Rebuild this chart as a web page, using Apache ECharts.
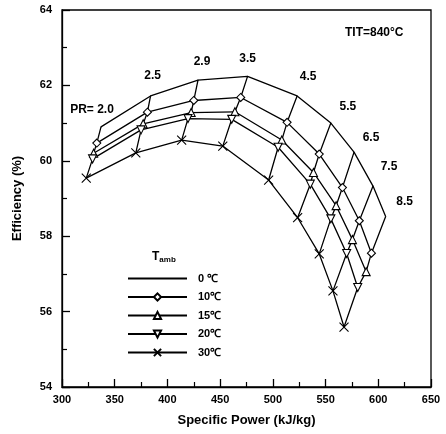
<!DOCTYPE html>
<html><head><meta charset="utf-8">
<script src="https://cdn.jsdelivr.net/npm/echarts@6/dist/echarts.min.js"></script>
<style>html,body{margin:0;padding:0;background:#fff}#c{width:446px;height:434px}</style>
</head><body><div id="c"></div>
<script>
var prLabels = ['PR= 2.0','2.5','2.9','3.5','4.5','5.5','6.5','7.5','8.5'];
var tambNames = ['0 ℃','10℃','15℃','20℃','30℃'];
var t0x  = [337, 384, 429, 476, 523, 555, 577, 595, 607];
var t0y  = [60.90, 61.72, 62.14, 62.24, 61.72, 61.00, 60.23, 59.33, 58.52];
var t10x = [333, 381, 425, 469.5, 513.5, 544, 566, 582, 593.5];
var t10y = [60.47, 61.29, 61.60, 61.68, 61.02, 60.18, 59.29, 58.41, 57.55];
var t15x = [330, 377, 422.5, 464, 508.5, 538.5, 560, 575.5, 588.5];
var t15y = [60.20, 60.98, 61.28, 61.30, 60.55, 59.69, 58.81, 57.91, 57.06];
var t20x = [329, 375, 419.5, 461, 505, 535.5, 555, 570, 580.5];
var t20y = [60.05, 60.82, 61.12, 61.10, 60.36, 59.38, 58.46, 57.54, 56.64];
var t30x = [323, 370, 413.5, 452.5, 496, 523.5, 544, 557, 567.5];
var t30y = [59.54, 60.21, 60.55, 60.39, 59.49, 58.49, 57.53, 56.55, 55.59];
var xTicks = [300, 350, 400, 450, 500, 550, 600, 650];
var yTicks = [54, 56, 58, 60, 62, 64];

var allX = [t0x, t10x, t15x, t20x, t30x];
var allY = [t0y, t10y, t15y, t20y, t30y];
var symbols = ['none', 'diamond', 'triangle', 'triangle', 'path://M0,0 L10,10 M10,0 L0,10'];
var rot = [0, 0, 0, 180, 0];
var sizes = [0, 8, 8, 8, 9];
var labelOffsets = [[-9,-17],[2,-20],[4,-18],[0,-18],[11,-19],[17,-16],[17,-14],[16,-19],[19,-15]];

var font = '"Liberation Sans", Arial, sans-serif';
var series = [];
for (var s = 0; s < 5; s++) {
  var d = [];
  for (var i = 0; i < allX[s].length; i++) d.push([allX[s][i], allY[s][i]]);
  series.push({
    name: tambNames[s], type: 'line', data: d, z: 3,
    symbol: symbols[s], symbolSize: sizes[s], symbolRotate: rot[s], showSymbol: s > 0,
    lineStyle: {color: '#000', width: 1.3},
    itemStyle: {color: s === 4 ? 'rgba(0,0,0,0)' : '#fff', borderColor: '#000', borderWidth: 1.1},
    emphasis: {disabled: true}, animation: false
  });
}
for (var p = 0; p < prLabels.length; p++) {
  var d2 = [];
  for (var s2 = 0; s2 < 5; s2++) d2.push([allX[s2][p], allY[s2][p]]);
  series.push({
    name: 'PR' + p, type: 'line', data: d2, z: 2,
    symbol: 'circle', symbolSize: 1, showSymbol: true,
    lineStyle: {color: '#000', width: 1.3},
    itemStyle: {color: '#000'},
    label: {show: false},
    emphasis: {disabled: true}, animation: false,
    markPoint: {
      symbol: 'circle', symbolSize: 0, silent: true,
      data: [{coord: d2[0], value: prLabels[p],
        label: {show: true, formatter: prLabels[p], offset: labelOffsets[p], position: 'inside',
          color: '#000', fontWeight: 'bold', fontSize: 12, fontFamily: font}}]
    }
  });
}

var legendData = tambNames.map(function (n, k) {
  return k === 0 ? {name: n, itemStyle: {opacity: 0}} : {name: n};
});

var chart = echarts.init(document.getElementById('c'), null, {renderer: 'canvas'});
chart.setOption({
  animation: false,
  backgroundColor: '#fff',
  grid: {left: 62, top: 10, right: 15, bottom: 47, show: true, borderColor: '#000', borderWidth: 1.3},
  xAxis: {
    type: 'value', min: xTicks[0], max: xTicks[xTicks.length-1], interval: 50,
    name: 'Specific Power (kJ/kg)', nameLocation: 'middle', nameGap: 27,
    nameTextStyle: {color: '#000', fontWeight: 'bold', fontSize: 13, fontFamily: font},
    axisLine: {lineStyle: {color: '#000', width: 1.3}},
    axisTick: {inside: true, length: 8, lineStyle: {color: '#000', width: 1.3}},
    minorTick: {show: true, splitNumber: 2, length: 5, lineStyle: {color: '#000', width: 1.2}},
    axisLabel: {color: '#000', fontWeight: 'bold', fontSize: 11, fontFamily: font, margin: 7},
    splitLine: {show: false}
  },
  yAxis: {
    type: 'value', min: yTicks[0], max: yTicks[yTicks.length-1], interval: 2,
    name: 'Efficiency (%)', nameLocation: 'middle', nameGap: 38,
    nameTextStyle: {color: '#000', fontWeight: 'bold', fontSize: 13, fontFamily: font},
    axisLine: {lineStyle: {color: '#000', width: 1.3}},
    axisTick: {inside: true, length: 8, lineStyle: {color: '#000', width: 1.3}},
    minorTick: {show: true, splitNumber: 2, length: 5, lineStyle: {color: '#000', width: 1.2}},
    axisLabel: {color: '#000', fontWeight: 'bold', fontSize: 11, fontFamily: font, margin: 10},
    splitLine: {show: false}
  },
  legend: {
    data: legendData, orient: 'vertical', left: 122, top: 268,
    itemWidth: 59, itemHeight: 9, itemGap: 7.5,
    textStyle: {color: '#000', fontWeight: 'bold', fontSize: 11, fontFamily: font, padding: [0,0,0,6]},
    selectedMode: false
  },
  graphic: [
    {type: 'text', left: 345, top: 27, style: {text: 'TIT=840°C', fill: '#000', font: 'bold 12px ' + font}},
    {type: 'text', left: 152, top: 251, style: {
      text: '{a|T}{b|amb}', rich: {
        a: {fontSize: 12, fontWeight: 'bold', fontFamily: font, fill: '#000', color: '#000'},
        b: {fontSize: 8, fontWeight: 'bold', fontFamily: font, fill: '#000', color: '#000', padding: [6,0,0,0]}
      }}}
  ],
  series: series
});
</script></body></html>
